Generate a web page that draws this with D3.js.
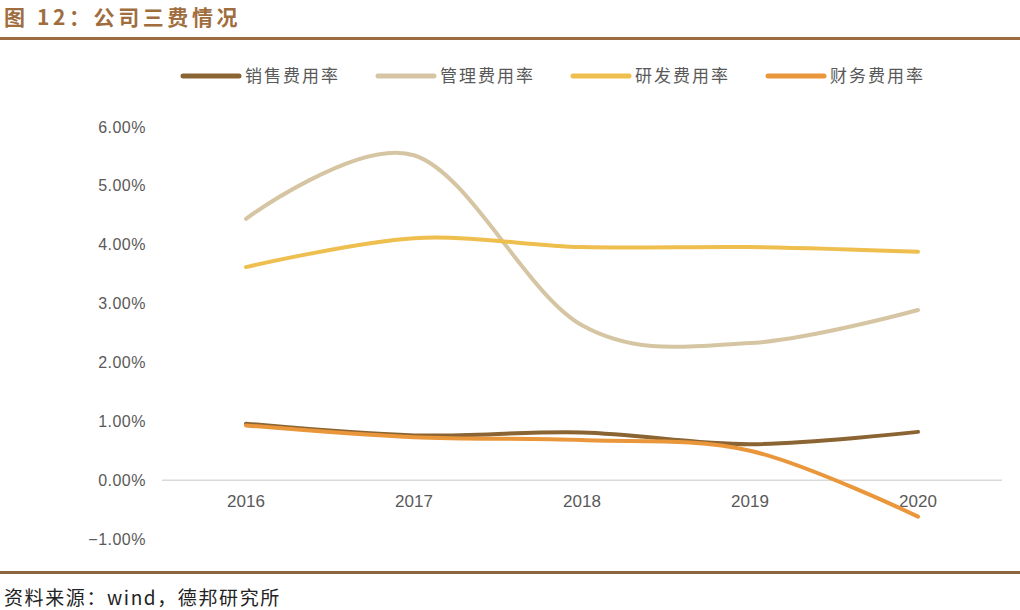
<!DOCTYPE html>
<html><head><meta charset="utf-8">
<script src="https://cdn.jsdelivr.net/npm/d3@7"></script>
<style>body{margin:0;background:#fff;} svg{display:block;}</style>
</head><body>
<svg id="c" width="1020" height="610"></svg>
<script>
const years = ["2016","2017","2018","2019","2020"];
const seriesNames = ["销售费用率","管理费用率","研发费用率","财务费用率"];
const sales = [0.96, 0.76, 0.81, 0.61, 0.82];
const admin = [4.44, 5.52, 2.63, 2.33, 2.89];
const rnd = [3.62, 4.11, 3.96, 3.96, 3.88];
const finance = [0.93, 0.73, 0.68, 0.50, -0.62];
const yTicks = [-1, 0, 1, 2, 3, 4, 5, 6];
const colors = ["#8B6433", "#D6C5A2", "#EEBE4F", "#EA963A"];
const allSeries = [sales, admin, rnd, finance];

const svg = d3.select("#c");
const font = "'Noto Sans CJK SC','Noto Sans',sans-serif";

// title
svg.append("text").attr("x", 4).attr("y", 25).text("图 12：公司三费情况")
  .attr("font-family", font).attr("font-weight", "bold").attr("font-size", 21)
  .attr("fill", "#A06E3E").attr("letter-spacing", 3.6);
svg.append("rect").attr("x", 0).attr("y", 37).attr("width", 1020).attr("height", 3).attr("fill", "#9C6B3F");
svg.append("rect").attr("x", 0).attr("y", 571).attr("width", 1020).attr("height", 3).attr("fill", "#8B6440");
svg.append("text").attr("x", 4).attr("y", 605).text("资料来源：wind，德邦研究所")
  .attr("font-family", font).attr("font-size", 19).attr("fill", "#222").attr("letter-spacing", 1.6);

const x = d3.scaleBand().domain(years).range([162, 1002]);
const y = d3.scaleLinear().domain([-1, 6]).range([539, 127]);

// y labels
svg.append("g").selectAll("text").data(yTicks).join("text")
  .attr("x", 146).attr("y", d => y(d)).attr("dy", "0.35em").attr("text-anchor", "end")
  .attr("font-family", "'Liberation Sans', Arial, sans-serif").attr("font-size", 16).attr("fill", "#595959")
  .attr("letter-spacing", 0.5)
  .text(d => d3.format(".2f")(d).replace("-", "−") + "%");

// zero axis
svg.append("line").attr("x1", 162).attr("x2", 1002).attr("y1", y(0)).attr("y2", y(0))
  .attr("stroke", "#D9D9D9").attr("stroke-width", 1.5);
svg.append("g").selectAll("text").data(years).join("text")
  .attr("x", d => x(d) + x.bandwidth() / 2).attr("y", y(0) + 27).attr("text-anchor", "middle")
  .attr("font-family", "'Liberation Sans', Arial, sans-serif").attr("font-size", 17).attr("fill", "#595959")
  .text(d => d);

const line = d3.line().x((d, i) => x(years[i]) + x.bandwidth() / 2).y(d => y(d))
  .curve(d3.curveCatmullRom.alpha(0));
// draw order: admin, rnd, sales, finance
[1, 2, 0, 3].forEach(k => {
  svg.append("path").datum(allSeries[k]).attr("d", line).attr("fill", "none")
    .attr("stroke", colors[k]).attr("stroke-width", 4).attr("stroke-linecap", "round");
});

// legend
const lg = svg.append("g").selectAll("g").data(seriesNames).join("g")
  .attr("transform", (d, i) => `translate(${183 + i * 195},76)`);
lg.append("line").attr("x1", 0).attr("x2", 56).attr("y1", 0).attr("y2", 0)
  .attr("stroke", (d, i) => colors[i]).attr("stroke-width", 5).attr("stroke-linecap", "round");
lg.append("text").attr("x", 62).attr("y", 0).attr("dy", "0.36em").text(d => d)
  .attr("font-family", font).attr("font-size", 17).attr("fill", "#595959").attr("letter-spacing", 2);
</script>
</body></html>
